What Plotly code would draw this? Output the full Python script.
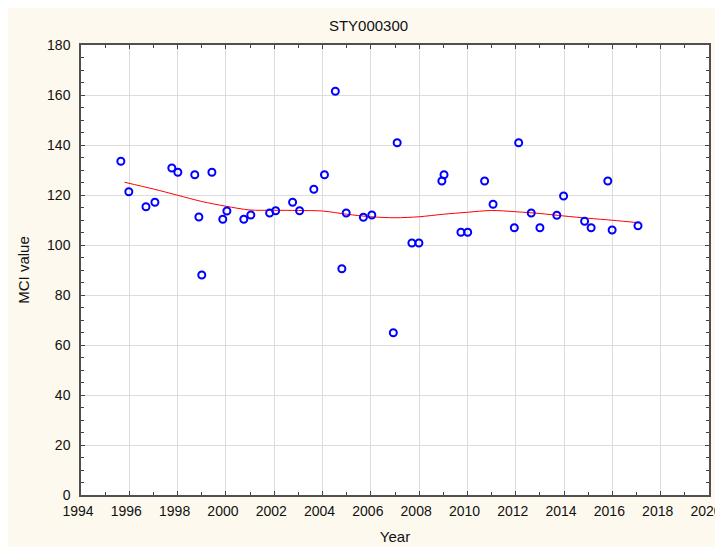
import plotly.graph_objects as go

# Observed data points
years = [1995.65, 1995.98, 1996.69, 1997.06, 1997.76, 1998.01, 1998.71, 1998.88, 1999.0,
         1999.42, 1999.87, 2000.04, 2000.74, 2001.03, 2001.81, 2002.06, 2002.76, 2003.05,
         2003.64, 2004.08, 2004.53, 2004.80, 2004.98, 2005.69, 2006.04, 2006.93, 2007.09,
         2007.70, 2007.99, 2008.94, 2009.03, 2009.73, 2010.01, 2010.71, 2011.06, 2011.94,
         2012.12, 2012.64, 2013.0, 2013.70, 2013.98, 2014.85, 2015.12, 2015.81, 2015.99,
         2017.06]
mci = [133.5, 121.3, 115.3, 117.1, 130.8, 129.1, 128.1, 111.2, 88.0,
       129.1, 110.3, 113.6, 110.3, 112.0, 112.8, 113.7, 117.1, 113.7,
       122.3, 128.1, 161.5, 90.5, 112.8, 111.1, 112.0, 64.9, 140.9,
       100.8, 100.8, 125.6, 128.1, 105.1, 105.1, 125.6, 116.3, 106.9,
       140.9, 112.8, 106.9, 111.9, 119.6, 109.5, 106.9, 125.6, 106.0,
       107.7]

# Smoothed trend
fit_years = [1995.8, 1997.0, 1998.0, 1999.0, 2000.0, 2001.0, 2002.0, 2003.0, 2004.0,
             2005.0, 2006.0, 2007.0, 2008.0, 2009.0, 2010.0, 2011.0, 2012.0, 2013.0,
             2014.0, 2015.0, 2016.0, 2017.1]
fit_vals = [125.1, 122.4, 119.9, 117.4, 115.5, 114.0, 113.9, 113.8, 113.6,
            112.3, 111.3, 110.9, 111.3, 112.3, 113.1, 113.8, 113.3, 112.6,
            111.6, 110.7, 109.9, 108.9]

x_ticks = list(range(1994, 2021, 2))
y_ticks = list(range(0, 181, 20))

title_text = "STY000300"
x_title = "Year"
y_title = "MCI value"

cream = "#FDF9EF"
font_family = "Liberation Sans, Arial, sans-serif"

fig = go.Figure()
fig.add_trace(go.Scatter(x=fit_years, y=fit_vals, mode="lines",
                         line=dict(color="#FF0000", width=1, shape="spline", smoothing=0.8),
                         showlegend=False, hoverinfo="skip"))
fig.add_trace(go.Scatter(x=years, y=mci, mode="markers",
                         marker=dict(symbol="circle-open", size=7, color="#0000FF",
                                     line=dict(width=2, color="#0000FF")),
                         showlegend=False))

W, H = 715, 539
ml, mr, mt, mb = 73, 14, 37, 52

axis_common = dict(
    showline=True, linecolor="#505050", linewidth=1.5, mirror="ticks",
    ticks="inside", ticklen=4, tickcolor="#404040", tickwidth=1,
    showgrid=True, gridcolor="#DCDCDC", gridwidth=1, zeroline=False,
    tickfont=dict(size=14, color="#111111", family=font_family),
    ticklabeloverflow="allow",
)

fig.update_xaxes(range=[1994, 2020], tickvals=x_ticks, ticktext=[str(v) for v in x_ticks],
                 minor=dict(dtick=1, tick0=1994, ticks="inside", ticklen=3, tickcolor="#404040", showgrid=False),
                 ticklabelstandoff=2, ticklabelshift=-3,
                 title=dict(text=x_title, font=dict(size=15, color="#111111", family=font_family), standoff=14),
                 **axis_common)
fig.update_yaxes(range=[0, 180], tickvals=y_ticks, ticktext=[str(v) for v in y_ticks],
                 minor=dict(dtick=5, tick0=0, ticks="inside", ticklen=3, tickcolor="#404040", showgrid=False),
                 ticklabelstandoff=6,
                 title=dict(text=y_title, font=dict(size=15, color="#111111", family=font_family), standoff=14),
                 **axis_common)

fig.update_layout(
    width=W, height=H,
    margin=dict(l=ml, r=mr, t=mt, b=mb, autoexpand=False),
    paper_bgcolor=cream, plot_bgcolor="white",
    font=dict(family=font_family, color="#111111"),
    title=dict(text=title_text, x=360.5 / W, xanchor="center", y=1 - 18 / H, yanchor="middle",
               font=dict(size=15, color="#111111", family=font_family)),
    showlegend=False,
)

fig.write_html("out.html",
               post_script="document.documentElement.style.overflow='hidden';document.body.style.overflow='hidden';")
